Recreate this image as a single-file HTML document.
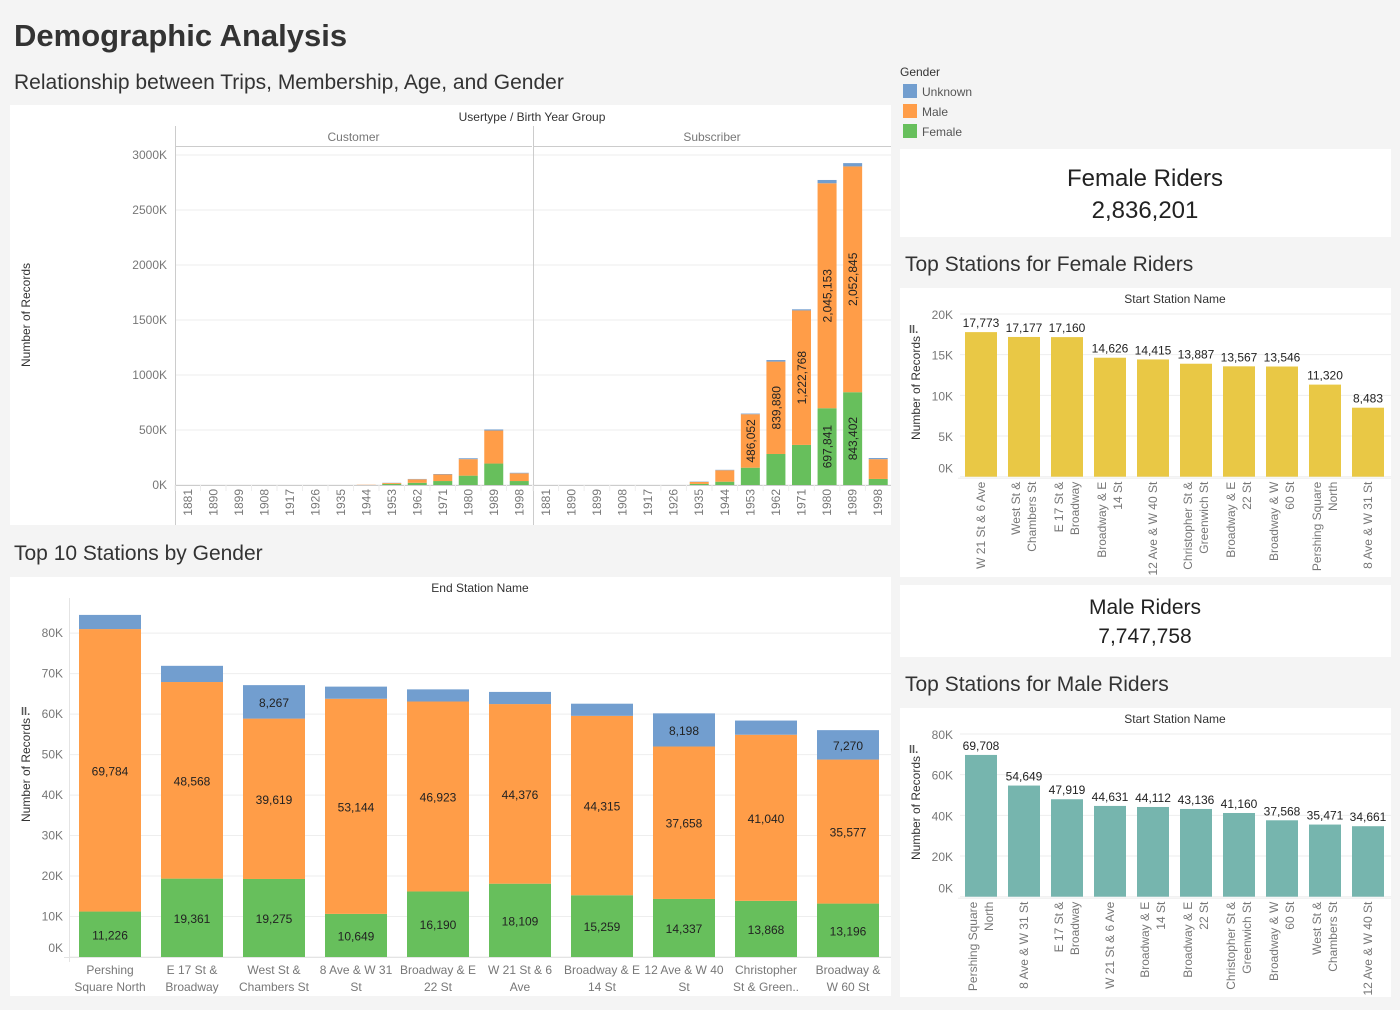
<!DOCTYPE html>
<html><head><meta charset="utf-8"><style>
html,body{margin:0;padding:0;background:#f4f4f4;}
svg{display:block;font-family:"Liberation Sans",sans-serif;}
</style></head><body>
<svg id="root" width="1400" height="1010" viewBox="0 0 1400 1010">
<rect x="0" y="0" width="1400" height="1010" fill="#f4f4f4"/>
<text x="14" y="46" font-size="31" font-weight="bold" fill="#333">Demographic Analysis</text>
<text x="14" y="89" font-size="21" fill="#333">Relationship between Trips, Membership, Age, and Gender</text>
<rect x="10" y="105" width="881" height="420" fill="#fff"/>
<text x="14" y="560" font-size="21" fill="#333">Top 10 Stations by Gender</text>
<rect x="10" y="577" width="881" height="419" fill="#fff"/>
<g>
<text x="900" y="76" font-size="12" fill="#333">Gender</text>
<rect x="903" y="84" width="14" height="14" fill="#729ecf"/>
<text x="922" y="96" font-size="12" fill="#555">Unknown</text>
<rect x="903" y="104" width="14" height="14" fill="#ff9d48"/>
<text x="922" y="116" font-size="12" fill="#555">Male</text>
<rect x="903" y="124" width="14" height="14" fill="#67bf5c"/>
<text x="922" y="136" font-size="12" fill="#555">Female</text>
</g>
<rect x="900" y="149" width="491" height="88" fill="#fff"/>
<text x="1145" y="186" font-size="24" text-anchor="middle" fill="#222">Female Riders</text>
<text x="1145" y="218" font-size="24" text-anchor="middle" fill="#222">2,836,201</text>
<text x="905" y="271" font-size="21" fill="#333">Top Stations for Female Riders</text>
<rect x="900" y="288" width="491" height="289" fill="#fff"/>
<rect x="900" y="585" width="491" height="72" fill="#fff"/>
<text x="1145" y="614" font-size="21" text-anchor="middle" fill="#222">Male Riders</text>
<text x="1145" y="643" font-size="21" text-anchor="middle" fill="#222">7,747,758</text>
<text x="905" y="691" font-size="21" fill="#333">Top Stations for Male Riders</text>
<rect x="900" y="708" width="491" height="289" fill="#fff"/>
<g id="top"></g><g id="bottom"></g><g id="fem"></g><g id="mal"></g>
</svg>
<script>
// ---- Top chart data (thousands) ----
const years = [1881,1890,1899,1908,1917,1926,1935,1944,1953,1962,1971,1980,1989,1998];
const custFemale = [0,0,0,0,0,0,0,0,10,20,36,85,195,36];
const custMale = [0,0,0,0,0,0,0,2,8,32,60,150,300,70];
const custUnknown = [0,0,0,0,0,0,0,0,2,3,4,8,10,5];
const subFemale = [0,0,0,0,0,0,10,30,157.3,282,364.4,697.841,843.402,55];
const subMale = [0,0,0,0,0,0,18,104,486.052,839.880,1222.768,2045.153,2052.845,180];
const subUnknown = [0,0,0,0,0,0,3,4,6,14,10,30,30,10];
const topTicks = [0,500,1000,1500,2000,2500,3000];
// ---- Bottom chart data ----
const endStations = [["Pershing","Square North"],["E 17 St &","Broadway"],["West St &","Chambers St"],["8 Ave & W 31","St"],["Broadway & E","22 St"],["W 21 St & 6","Ave"],["Broadway & E","14 St"],["12 Ave & W 40","St"],["Christopher","St & Green.."],["Broadway &","W 60 St"]];
const endFemale = [11226,19361,19275,10649,16190,18109,15259,14337,13868,13196];
const endMale = [69784,48568,39619,53144,46923,44376,44315,37658,41040,35577];
const endUnknown = [3500,4000,8267,3000,3000,3000,3000,8198,3500,7270];
const bottomTicks = [0,10,20,30,40,50,60,70,80];
// ---- Female top stations ----
const femStations = [["W 21 St & 6 Ave"],["West St &","Chambers St"],["E 17 St &","Broadway"],["Broadway & E","14 St"],["12 Ave & W 40 St"],["Christopher St &","Greenwich St"],["Broadway & E","22 St"],["Broadway & W","60 St"],["Pershing Square","North"],["8 Ave & W 31 St"]];
const femValues = [17773,17177,17160,14626,14415,13887,13567,13546,11320,8483];
const femTicks = [0,5,10,15,20];
// ---- Male top stations ----
const malStations = [["Pershing Square","North"],["8 Ave & W 31 St"],["E 17 St &","Broadway"],["W 21 St & 6 Ave"],["Broadway & E","14 St"],["Broadway & E","22 St"],["Christopher St &","Greenwich St"],["Broadway & W","60 St"],["West St &","Chambers St"],["12 Ave & W 40 St"]];
const malValues = [69708,54649,47919,44631,44112,43136,41160,37568,35471,34661];
const malTicks = [0,20,40,60,80];

const NS='http://www.w3.org/2000/svg';
function mk(parent,tag,attrs,txt){const e=document.createElementNS(NS,tag);for(const k in attrs)e.setAttribute(k,attrs[k]);if(txt!==undefined)e.textContent=txt;parent.appendChild(e);return e;}
const fmt=n=>Math.round(n).toLocaleString('en-US');
const GREEN='#67bf5c',ORANGE='#ff9d48',BLUE='#729ecf';

// ===== Top chart =====
(function(){
 const g=document.getElementById('top');
 const y0=485, pxK=330/3000; const y=v=>y0-v*pxK;
 let t=mk(g,'text',{x:532,y:121,'font-size':12,'text-anchor':'middle',fill:'#333'},'Usertype  /  Birth Year Group');
 
 
 t=mk(g,'text',{transform:'translate(30,315) rotate(-90)','font-size':12,'text-anchor':'middle',fill:'#333'},'Number of Records');
 
 
 topTicks.forEach(v=>{
  const l=mk(g,'line',{x1:175,x2:891,y1:y(v),y2:y(v),stroke:'#eee'});
  
  
  const tt=mk(g,'text',{x:167,y:y(v)+4,'font-size':12,'text-anchor':'end',fill:'#777'},v+'K');
  
  
 });
 const panes=[{name:'Customer',x0:175,x1:532,f:custFemale,m:custMale,u:custUnknown},{name:'Subscriber',x0:533,x1:891,f:subFemale,m:subMale,u:subUnknown}];
 panes.forEach(p=>{
  const h=mk(g,'text',{x:(p.x0+p.x1)/2,y:141,'font-size':12,'text-anchor':'middle',fill:'#777'},p.name);
  
  
  mk(g,'line',{x1:p.x0,x2:p.x1,y1:146.5,y2:146.5,stroke:'#ccc'});
  mk(g,'line',{x1:p.x0+0.5,x2:p.x0+0.5,y1:126,y2:525,stroke:'#ccc'});
  mk(g,'line',{x1:p.x0,x2:p.x1,y1:y0+0.5,y2:y0+0.5,stroke:'#ccc'});
  const step=(p.x1-p.x0)/years.length;
  years.forEach((yr,i)=>{
   const cx=p.x0+step*(i+0.5), w=19;
   const f=p.f[i],m=p.m[i],u=p.u[i];
   const segs=[[0,f,GREEN,'female'],[f,f+m,ORANGE,'male'],[f+m,f+m+u,BLUE,'unknown']];
   segs.forEach(s=>{ if(s[1]>s[0]){
    const r=mk(g,'rect',{x:cx-w/2,y:y(s[1]),width:w,height:y(s[0])-y(s[1]),fill:s[2]});
    
    
    if(s[1]-s[0]>450){
     const ly=(y(s[0])+y(s[1]))/2;
     const lt=mk(g,'text',{transform:`translate(${cx+4.5},${ly}) rotate(-90)`,'font-size':12,'text-anchor':'middle',fill:'#222'},fmt((s[1]-s[0])*1000));
     
     
    }
   }});
   const xl=mk(g,'text',{transform:`translate(${cx+4},489) rotate(-90)`,'font-size':12,'text-anchor':'end',fill:'#777'},yr);
   
   
   mk(g,'line',{x1:p.x0+step*i,x2:p.x0+step*i,y1:y0,y2:y0+6,stroke:'#eee'});
  });
 });
})();

// ===== Bottom chart =====
(function(){
 const g=document.getElementById('bottom');
 const y0=957, px=4.048; const y=v=>y0-v/1000*px;
 let t=mk(g,'text',{x:480,y:592,'font-size':12,'text-anchor':'middle',fill:'#333'},'End Station Name');
 
 
 t=mk(g,'text',{transform:'translate(30,770) rotate(-90)','font-size':12,'text-anchor':'middle',fill:'#333'},'Number of Records');
 
 
 mk(g,'text',{x:21,y:715,'font-size':11,'font-weight':'bold',fill:'#555'},'ll.');
 bottomTicks.forEach(v=>{
  const l=mk(g,'line',{x1:69,x2:891,y1:y(v*1000),y2:y(v*1000),stroke:'#eee'});
  
  
  const tt=mk(g,'text',{x:63,y:v===0?952:y(v*1000)+4,'font-size':12,'text-anchor':'end',fill:'#777'},v+'K');
  
  
 });
 mk(g,'line',{x1:69.5,x2:69.5,y1:598,y2:962,stroke:'#e4e4e4'});
 mk(g,'line',{x1:64,x2:891,y1:y0+0.5,y2:y0+0.5,stroke:'#e4e4e4'});
 endStations.forEach((nm,i)=>{
  const cx=110+82*i,w=62;
  const f=endFemale[i],m=endMale[i],u=endUnknown[i];
  const segs=[[0,f,GREEN,'female',true],[f,f+m,ORANGE,'male',true],[f+m,f+m+u,BLUE,'unknown',u>5000]];
  segs.forEach(s=>{
   const r=mk(g,'rect',{x:cx-w/2,y:y(s[1]),width:w,height:y(s[0])-y(s[1]),fill:s[2]});
   
   
   if(s[4]){
    const lt=mk(g,'text',{x:cx,y:(y(s[0])+y(s[1]))/2+5,'font-size':12,'text-anchor':'middle',fill:'#222'},fmt(s[1]-s[0]));
    
    
   }
  });
  nm.forEach((ln,j)=>{
   const xl=mk(g,'text',{x:cx,y:974+17*j,'font-size':12,'text-anchor':'middle',fill:'#777'},ln);
   
   
  });
 });
})();

// ===== Small station charts =====
function small(id,top,names,vals,ticks,maxK,color,prefix){
 const g=document.getElementById(id);
 const y0=top+188.7, pxK=(top+188.7-(top+26))/maxK;
 const y=v=>y0-v/1000*pxK;
 let t=mk(g,'text',{x:1175,y:top+15,'font-size':12,'text-anchor':'middle',fill:'#333'},'Start Station Name');
 
 
 t=mk(g,'text',{transform:`translate(920,${top+100}) rotate(-90)`,'font-size':12,'text-anchor':'middle',fill:'#333'},'Number of Records');
 
 
 mk(g,'text',{x:909,y:top+45,'font-size':11,'font-weight':'bold',fill:'#555'},'ll.');
 ticks.forEach(v=>{
  const l=mk(g,'line',{x1:960,x2:1391,y1:y(v*1000),y2:y(v*1000),stroke:'#eee'});
  
  
  const tt=mk(g,'text',{x:953,y:v===0?y(0)-4:y(v*1000)+5,'font-size':12,'text-anchor':'end',fill:'#777'},v+'K');
  
  
 });
 mk(g,'line',{x1:958,x2:1391,y1:y0+1.5,y2:y0+1.5,stroke:'#eee'});
 names.forEach((nm,i)=>{
  const cx=981+43*i,w=32,v=vals[i];
  const r=mk(g,'rect',{x:cx-w/2,y:y(v),width:w,height:y0-y(v),fill:color});
  
  
  const lt=mk(g,'text',{x:cx,y:y(v)-5,'font-size':12,'text-anchor':'middle',fill:'#222'},fmt(v));
  
  
  const n=nm.length;
  nm.forEach((ln,j)=>{
   const off=n===1?0:(j===0?-8:8);
   const xl=mk(g,'text',{transform:`translate(${cx+off+4},${y0+5}) rotate(-90)`,'font-size':12,'text-anchor':'end',fill:'#777'},ln);
   
   
  });
 });
}
small('fem',288,femStations,femValues,femTicks,20,'#e9c845','female');
small('mal',708,malStations,malValues,malTicks,80,'#76b5ae','male');
</script>
</body></html>
